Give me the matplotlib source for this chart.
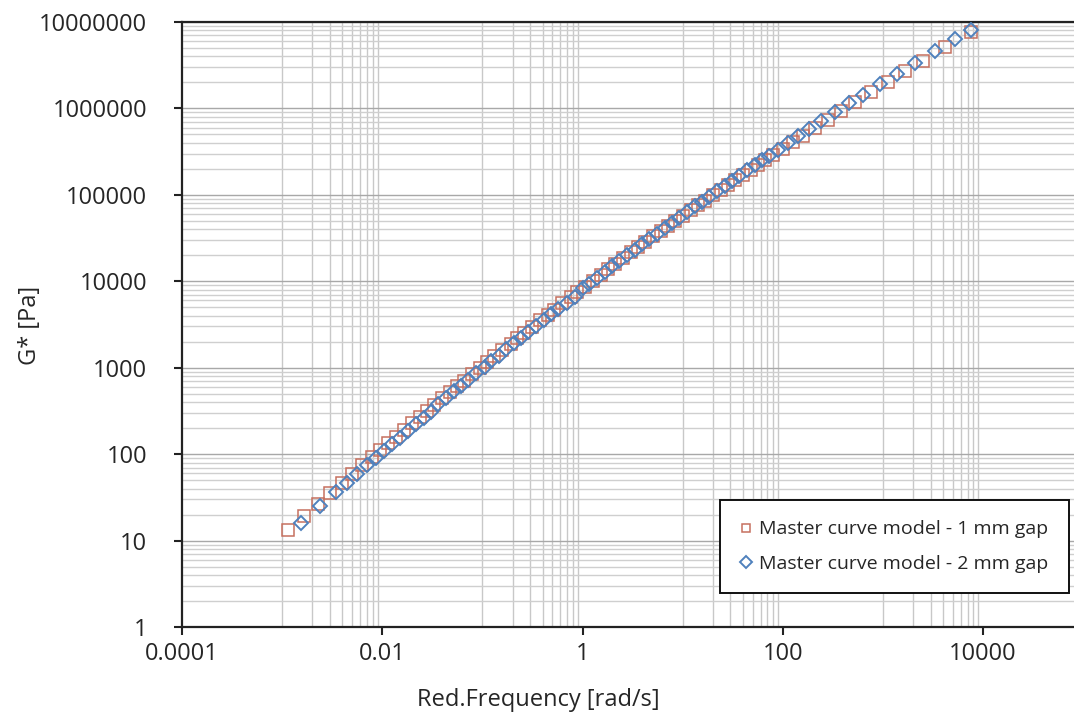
import matplotlib
matplotlib.use('Agg')
import matplotlib.pyplot as plt
from matplotlib.ticker import FixedLocator, NullFormatter, FuncFormatter

plt.rcParams['font.family'] = ['Open Sans', 'DejaVu Sans']

# Master curve model - 1 mm gap (red squares)
freq_1mm = [0.00115, 0.00166, 0.00229, 0.00302, 0.00398, 0.00501, 0.00631, 0.00794,
            0.00955, 0.0115, 0.0138, 0.0166, 0.0200, 0.0240, 0.0282, 0.0331, 0.0398,
            0.0479, 0.0562, 0.0661, 0.0794, 0.0955, 0.112, 0.132, 0.158, 0.191, 0.224,
            0.263, 0.316, 0.380, 0.447, 0.525, 0.631, 0.759, 0.891, 1.047, 1.259, 1.514,
            1.778, 2.089, 2.512, 3.02, 3.548, 4.169, 5.012, 6.026, 7.079, 8.318, 10.0,
            12.02, 14.13, 16.6, 19.95, 23.99, 28.18, 33.11, 39.81, 47.86, 56.23, 66.07,
            79.43, 100, 125.9, 158.5, 208.9, 281.8, 380.2, 524.8, 758.6, 1122, 1660,
            2512, 4169, 7586]
g_1mm = [13.2, 19.3, 26.8, 35.5, 46.7, 58.9, 74.0, 92.9, 111, 133, 159, 191, 228, 272,
         317, 370, 441, 525, 611, 711, 845, 1002, 1164, 1352, 1600, 1892, 2193, 2536,
         2995, 3535, 4080, 4710, 5550, 6530, 7520, 8660, 10170, 11910, 13700, 15740,
         18450, 21550, 24720, 28310, 33040, 38550, 44050, 50350, 57500, 66500, 75500,
         85700, 99000, 114500, 129500, 147000, 169500, 195500, 221500, 251000, 289000,
         339300, 404100, 482500, 594000, 742100, 927900, 1174000, 1533000, 2032000,
         2676000, 3585000, 5076000, 7594000]

# Master curve model - 2 mm gap (blue diamonds)
freq_2mm = [0.00155, 0.0024, 0.00347, 0.00447, 0.00562, 0.00708, 0.00871, 0.0105,
            0.0126, 0.0151, 0.0182, 0.0219, 0.0263, 0.0309, 0.0363, 0.0437, 0.0525,
            0.0617, 0.0724, 0.0871, 0.105, 0.123, 0.145, 0.174, 0.209, 0.245, 0.288,
            0.347, 0.417, 0.490, 0.575, 0.692, 0.832, 1.0, 1.148, 1.380, 1.660, 1.950,
            2.291, 2.754, 3.311, 3.890, 4.571, 5.495, 6.607, 7.762, 9.120, 10.96, 13.18,
            15.49, 18.20, 21.88, 26.30, 30.90, 36.31, 43.65, 52.48, 61.66, 72.44, 89.13,
            112.2, 141.3, 182.0, 239.9, 331.1, 457.1, 631.0, 933.3, 1380, 2089, 3311,
            5248, 7586]
g_2mm = [16.0, 25.0, 36.3, 46.8, 58.8, 73.9, 90.7, 108.6, 129.8, 155.2, 185.7, 221.8,
         264.8, 309, 377, 449, 534, 622, 724, 859, 1019, 1183, 1371, 1625, 1922, 2223,
         2570, 3034, 3581, 4136, 4775, 5614, 6607, 8318, 9383, 11010, 12910, 14840,
         17030, 19930, 23300, 26710, 30570, 35670, 41570, 47530, 54290, 63140, 73400,
         83660, 95300, 110600, 128200, 145700, 165600, 191500, 221300, 250900, 284400,
         333900, 398500, 474900, 575300, 707900, 900100, 1141000, 1443000, 1914000,
         2530000, 3385000, 4658000, 6377000, 8170000]

x_major = [0.0001, 0.01, 1, 100, 10000]
x_minor = [k * 10.0 ** e for e in (-3, -1, 1, 3) for k in range(1, 10)]
y_major = [10.0 ** e for e in range(0, 8)]
y_minor = [k * 10.0 ** e for e in range(0, 7) for k in range(2, 10)]

fig = plt.figure(figsize=(10.74, 7.24), dpi=100)
ax = fig.add_axes([182 / 1074, 1 - 627 / 724, 1 - 182 / 1074, (627 - 22) / 724])

ax.set_xscale('log')
ax.set_yscale('log')
ax.set_xlim(1e-4, 8.1e4)
ax.set_ylim(1, 1e7)

ax.plot(freq_1mm, g_1mm, linestyle='none', marker='s', markersize=8.4,
        markerfacecolor='none', markeredgecolor='#c6705f', markeredgewidth=1.1,
        label='Master curve model - 1 mm gap', zorder=3)
ax.plot(freq_2mm, g_2mm, linestyle='none', marker='D', markersize=7.6,
        markerfacecolor='none', markeredgecolor='#4f81bd', markeredgewidth=1.4,
        label='Master curve model - 2 mm gap', zorder=4)

ax.xaxis.set_major_locator(FixedLocator(x_major))
ax.xaxis.set_minor_locator(FixedLocator(x_minor))
ax.yaxis.set_major_locator(FixedLocator(y_major))
ax.yaxis.set_minor_locator(FixedLocator(y_minor))
fmt = FuncFormatter(lambda v, p: ('%f' % v).rstrip('0').rstrip('.'))
ax.xaxis.set_major_formatter(fmt)
ax.yaxis.set_major_formatter(fmt)
ax.xaxis.set_minor_formatter(NullFormatter())
ax.yaxis.set_minor_formatter(NullFormatter())

ax.grid(True, which='minor', axis='x', color='#c8c8c8', linewidth=1.0)
ax.grid(True, which='major', axis='y', color='#a8a8a8', linewidth=1.0)
ax.grid(True, which='minor', axis='y', color='#cfcfcf', linewidth=1.0)
ax.set_axisbelow(True)

ax.tick_params(which='minor', length=0)
ax.tick_params(which='major', length=6, width=1.5, color='#222222',
               labelsize=17, labelcolor='#262626')
ax.tick_params(axis='y', which='major', pad=19)
ax.tick_params(axis='x', which='major', pad=5)

for side in ('left', 'bottom', 'top'):
    ax.spines[side].set_linewidth(1.6)
    ax.spines[side].set_color('#222222')
ax.spines['right'].set_visible(False)

fig.text(30 / 1074, 1 - 325 / 724, 'G* [Pa]', rotation=90, ha='center', va='center',
         fontsize=17, color='#262626')
fig.text(538 / 1074, 1 - 700 / 724, 'Red.Frequency [rad/s]', ha='center', va='center',
         fontsize=17, color='#262626')

leg = ax.legend(loc='upper left', bbox_to_anchor=(720 / 1074, 1 - 500 / 724),
                bbox_transform=fig.transFigure, borderaxespad=0, fontsize=14,
                markerscale=0.75, handlelength=0.6, handletextpad=0.35,
                labelspacing=0.85, borderpad=1.05, fancybox=False, framealpha=1)
leg.get_frame().set_edgecolor('#111111')
leg.get_frame().set_linewidth(1.4)
for t in leg.get_texts():
    t.set_color('#262626')

fig.savefig('out.png', dpi=100)
